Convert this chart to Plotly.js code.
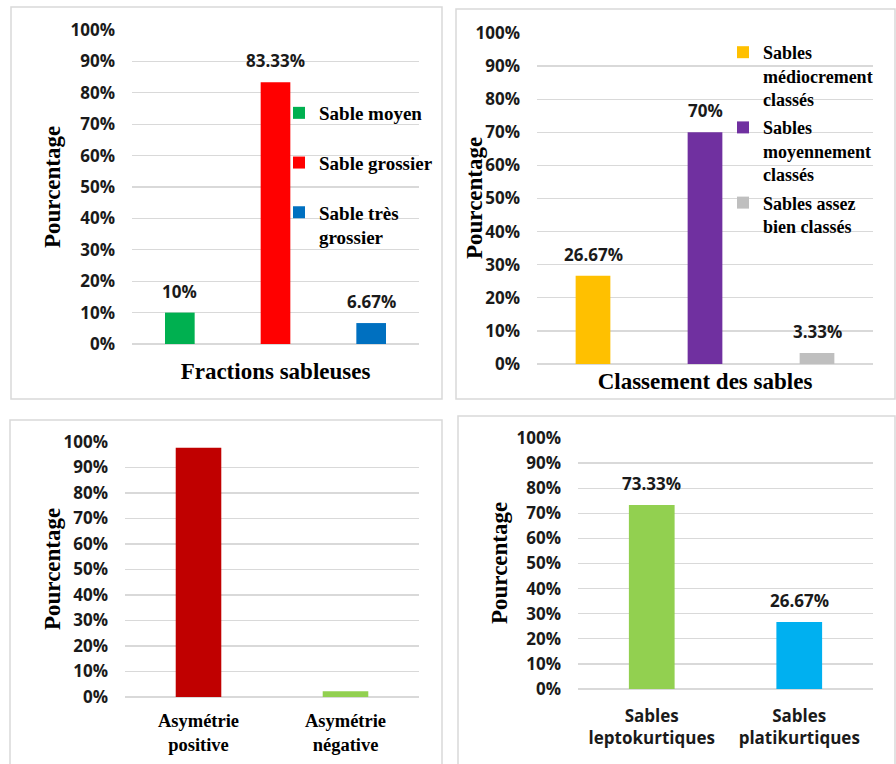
<!DOCTYPE html>
<html>
<head>
<meta charset="utf-8">
<script src="https://cdn.plot.ly/plotly-3.0.1.min.js"></script>
<style>
  html, body { margin: 0; padding: 0; background: #ffffff; }
  #chart { width: 896px; height: 764px; }
</style>
</head>
<body>
<div id="chart"></div>
<script>
// Sand fractions
const fractionCats = ['Sable moyen', 'Sable grossier', 'Sable très<br>grossier'];
const fractionVals = [10, 83.33, 6.67];
const fractionColors = ['#00b050', '#ff0000', '#0070c0'];

// Sorting classes
const sortingCats = ['Sables<br>médiocrement<br>classés', 'Sables<br>moyennement<br>classés', 'Sables assez<br>bien classés'];
const sortingVals = [26.67, 70, 3.33];
const sortingColors = ['#ffc000', '#7030a0', '#bfbfbf'];

// Skewness
const skewCats = ['Asymétrie<br>positive', 'Asymétrie<br>négative'];
const skewVals = [97.78, 2.22];
const skewColors = ['#c00000', '#92d050'];

// Kurtosis
const kurtCats = ['Sables<br>leptokurtiques', 'Sables<br>platikurtiques'];
const kurtVals = [73.33, 26.67];
const kurtColors = ['#92d050', '#00b0f0'];

const yTicks = [0, 10, 20, 30, 40, 50, 60, 70, 80, 90, 100];
const yTickText = yTicks.map(v => v + '%');
const yTitle = 'Pourcentage';

const W = 896, H = 764;
const SERIF = 'Liberation Serif, Times New Roman, serif';
const SANS = 'Open Sans, Arial, sans-serif';
const GRID = '#d9d9d9';

function px(x) { return x / W; }
function py(y) { return 1 - y / H; }

function yAxis(anchor, top, bottom) {
  return {
    anchor: anchor,
    domain: [py(bottom), py(top)],
    range: [0, 100],
    tickmode: 'array', tickvals: yTicks, ticktext: yTickText,
    showgrid: true, gridcolor: GRID, gridwidth: 1.3,
    zeroline: true, zerolinecolor: GRID, zerolinewidth: 1.3,
    showline: false, ticks: '',
    ticklabelstandoff: 16,
    tickfont: { family: SANS, size: 17, color: '#1a1a1a', weight: 700 },
    automargin: false,
    fixedrange: true
  };
}

function xAxis(anchor, left, right, cats, extra) {
  return Object.assign({
    anchor: anchor,
    domain: [px(left), px(right)],
    type: 'category',
    categoryorder: 'array', categoryarray: cats,
    showgrid: false, zeroline: false, showline: false, ticks: '',
    automargin: false,
    fixedrange: true
  }, extra);
}

const traces = [];

// Panel 1: one trace per fraction so each gets a legend entry
fractionCats.forEach((c, i) => {
  traces.push({
    type: 'bar', x: [c], y: [fractionVals[i]], name: c,
    marker: { color: fractionColors[i] },
    xaxis: 'x', yaxis: 'y', legend: 'legend', legendgroup: 'f' + i,
    hoverinfo: 'skip'
  });
});

// Panel 2
sortingCats.forEach((c, i) => {
  traces.push({
    type: 'bar', x: [c], y: [sortingVals[i]], name: c,
    marker: { color: sortingColors[i] },
    xaxis: 'x2', yaxis: 'y2', legend: 'legend2', legendgroup: 's' + i,
    hoverinfo: 'skip'
  });
});

// Panel 3
traces.push({
  type: 'bar', x: skewCats, y: skewVals,
  marker: { color: skewColors },
  xaxis: 'x3', yaxis: 'y3', showlegend: false, hoverinfo: 'skip'
});

// Panel 4
traces.push({
  type: 'bar', x: kurtCats, y: kurtVals,
  marker: { color: kurtColors },
  xaxis: 'x4', yaxis: 'y4', showlegend: false, hoverinfo: 'skip'
});

// Value labels above bars
const annotations = [];
function labelBars(cats, vals, xr, yr) {
  cats.forEach((c, i) => {
    annotations.push({
      xref: xr, yref: yr, x: c, y: vals[i],
      text: vals[i] + '%', showarrow: false,
      xanchor: 'center', yanchor: 'bottom', yshift: 8,
      font: { family: SANS, size: 17, color: '#1a1a1a', weight: 700 }
    });
  });
}
labelBars(fractionCats, fractionVals, 'x', 'y');
labelBars(sortingCats, sortingVals, 'x2', 'y2');
labelBars(kurtCats, kurtVals, 'x4', 'y4');

// Vertical "Pourcentage" titles, one per panel (x centre, y centre in px)
[[52, 187], [474, 198], [52, 569], [499, 563]].forEach(([cx, cy]) => {
  annotations.push({
    xref: 'paper', yref: 'paper', x: px(cx), y: py(cy),
    text: yTitle, textangle: -90, showarrow: false,
    xanchor: 'center', yanchor: 'middle',
    font: { family: SERIF, size: 23, color: '#000000', weight: 700 }
  });
});

// Panel frames
function frame(x0, y0, x1, y1) {
  return {
    type: 'rect', xref: 'paper', yref: 'paper',
    x0: px(x0), x1: px(x1), y0: py(y1), y1: py(y0),
    line: { color: '#d9d9d9', width: 1.5 }, fillcolor: 'rgba(0,0,0,0)', layer: 'below'
  };
}

const layout = {
  width: W, height: H,
  margin: { l: 0, r: 0, t: 0, b: 0 },
  paper_bgcolor: '#ffffff', plot_bgcolor: 'rgba(0,0,0,0)',
  barmode: 'overlay', bargap: 0.69,
  showlegend: true,
  font: { family: SANS },
  xaxis: xAxis('y', 132, 419, fractionCats, {
    showticklabels: false,
    title: { text: 'Fractions sableuses', standoff: 18,
             font: { family: SERIF, size: 23, color: '#000000', weight: 700 } }
  }),
  yaxis: yAxis('x', 30, 344),
  xaxis2: xAxis('y2', 537, 873, sortingCats, {
    showticklabels: false,
    title: { text: 'Classement des sables', standoff: 8,
             font: { family: SERIF, size: 23, color: '#000000', weight: 700 } }
  }),
  yaxis2: yAxis('x2', 33, 364),
  xaxis3: xAxis('y3', 125, 419, skewCats, {
    tickfont: { family: SERIF, size: 18.5, color: '#000000', weight: 700 },
    ticklabelstandoff: 10
  }),
  yaxis3: yAxis('x3', 442, 697),
  xaxis4: xAxis('y4', 578, 873, kurtCats, {
    tickfont: { family: SANS, size: 17, color: '#1a1a1a', weight: 700 },
    ticklabelstandoff: 15
  }),
  yaxis4: yAxis('x4', 438, 689),
  legend: {
    x: px(279), y: py(94), xanchor: 'left', yanchor: 'top',
    bgcolor: 'rgba(0,0,0,0)',
    font: { family: SERIF, size: 19, color: '#000000', weight: 700 },
    traceorder: 'grouped', tracegroupgap: 22, valign: 'top'
  },
  legend2: {
    x: px(723), y: py(34), xanchor: 'left', yanchor: 'top',
    bgcolor: 'rgba(0,0,0,0)',
    font: { family: SERIF, size: 18, color: '#000000', weight: 700 },
    traceorder: 'grouped', tracegroupgap: 2, valign: 'top'
  },
  shapes: [
    frame(11, 7, 442, 399),
    frame(456, 9, 895, 399),
    frame(10, 420, 442, 767),
    frame(458, 416, 895, 767)
  ],
  annotations: annotations
};

Plotly.newPlot('chart', traces, layout, { displayModeBar: false, staticPlot: true });
</script>
</body>
</html>
